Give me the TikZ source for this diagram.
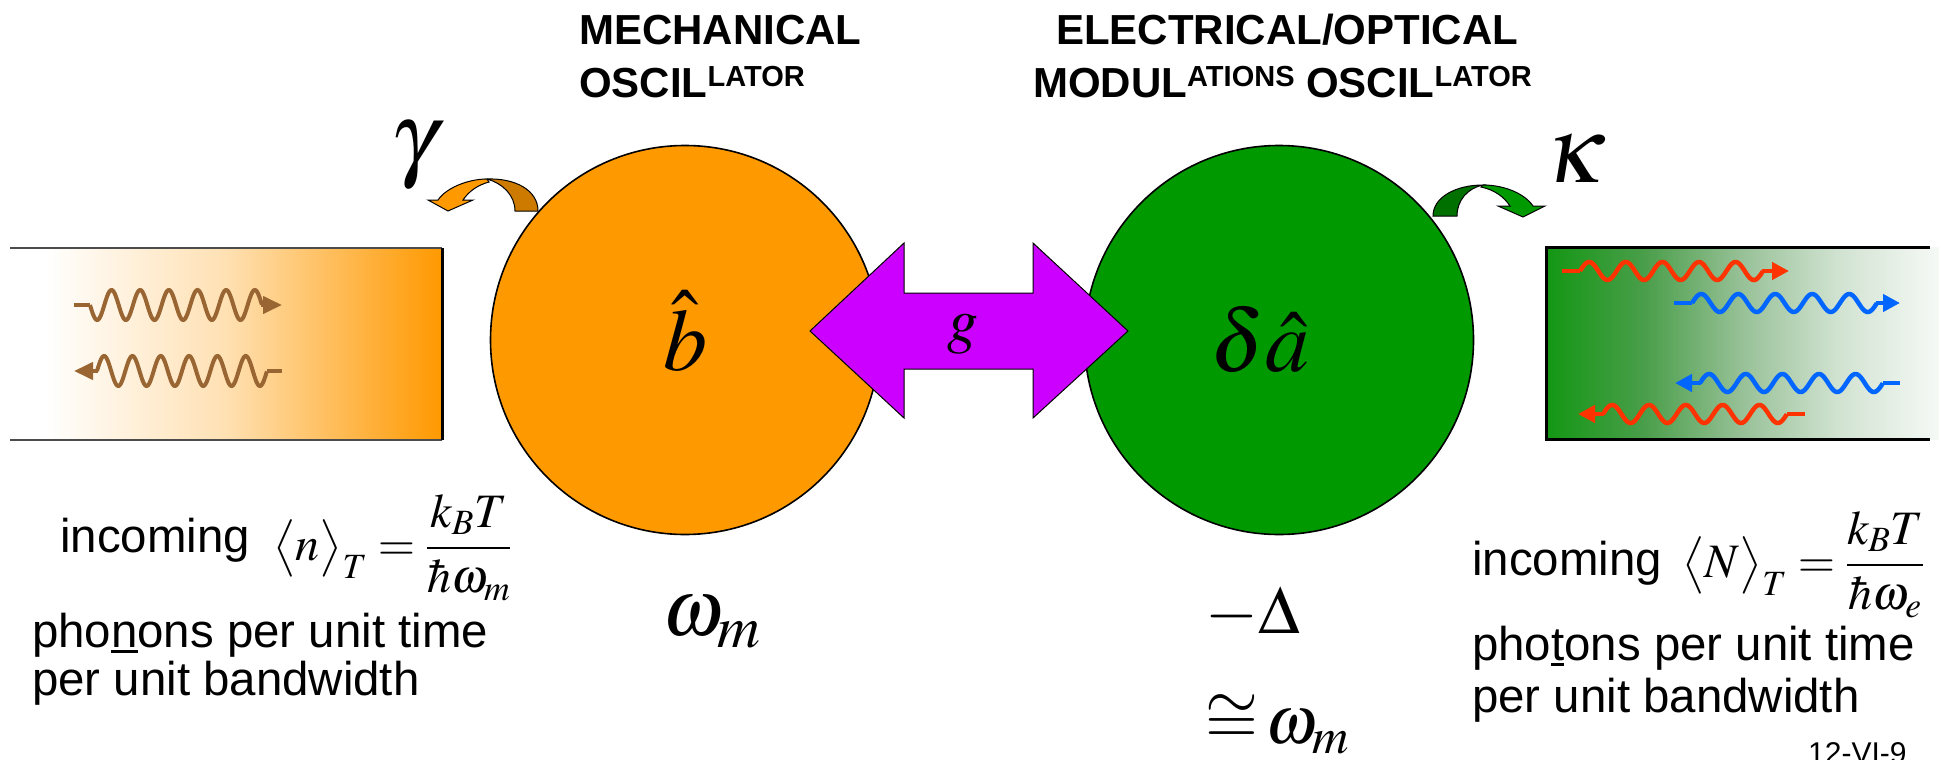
\documentclass[tikz,border=0pt]{standalone}
\usepackage{amsmath}
\usepackage{mathptmx}
\usepackage{bm}
\usepackage[no-math]{fontspec}
\newfontfamily\arial{Liberation Sans}
\usetikzlibrary{arrows.meta}
\definecolor{morange}{HTML}{FF9900}
\definecolor{dorange}{HTML}{CC7A00}
\definecolor{mgreen}{HTML}{009900}
\definecolor{dgreen}{HTML}{007000}
\definecolor{magentaP}{HTML}{CC00FF}
\definecolor{wbrown}{HTML}{996633}
\definecolor{wred}{HTML}{FF3300}
\definecolor{wblue}{HTML}{0066FF}
\definecolor{gA}{HTML}{139713}
\definecolor{gB}{HTML}{4A9E4A}
\definecolor{gC}{HTML}{98C198}
\definecolor{gD}{HTML}{D2E3D2}
\definecolor{gE}{HTML}{F6F9F6}
\pgfdeclarehorizontalshading{orangebar}{100bp}{color(0bp)=(white); color(29bp)=(white); color(50bp)=(morange!30); color(62.5bp)=(morange!65); color(75bp)=(morange); color(100bp)=(morange)}
\pgfdeclarehorizontalshading{greenbar}{100bp}{color(0bp)=(gA); color(25bp)=(gA); color(37.5bp)=(gB); color(50bp)=(gC); color(62.5bp)=(gD); color(75bp)=(gE); color(100bp)=(gE)}
\newcommand\ulchar[1]{\setbox0\hbox{#1}\rlap{\rule[-6pt]{\wd0}{3pt}}\box0}
\newcommand\supx[1]{\raisebox{10pt}{\fontsize{29}{30}\selectfont #1}}
\tikzset{
  txt/.style={inner sep=0pt, anchor=base west, font=\arial\fontsize{47.4}{56}\selectfont},
  ttl/.style={inner sep=0pt, anchor=base west, font=\arial\bfseries\fontsize{42}{48}\selectfont},
  frm/.style={inner sep=0pt, anchor=base west, font=\fontsize{48}{56}\selectfont},
  bigm/.style={inner sep=0pt, anchor=base, font=\fontsize{88}{100}\selectfont},
  gr/.style={inner sep=0pt, anchor=base west, font=\fontsize{95}{110}\selectfont},
  lbl/.style={inner sep=0pt, anchor=base west, font=\fontsize{#1}{#1}\selectfont},
  wavL/.style={line width=4pt},
  wavR/.style={line width=4.5pt},
  headL/.style={-{Triangle[length=19pt 0,width=17pt 0]}},
  headR/.style={-{Triangle[length=17pt 0,width=17pt 0]}},
  shapeln/.style={draw=black, line width=1pt},
  osc/.style={circle, draw=black, line width=1.6pt, inner sep=0pt, minimum size=389pt}
}
\begin{document}
\begin{tikzpicture}[x=1pt,y=-1pt]
\useasboundingbox (0,0) rectangle (1939,760);
\fill[white] (0,0) rectangle (1939,760);

% baths
\shade[shading=orangebar] (10,248) rectangle (442,440);
\draw[line width=2.5pt, black!70] (10,248) -- (442,248);
\draw[line width=2.5pt, black!70] (10,440) -- (442,440);
\draw[line width=3pt] (442,248) -- (442,440);
\shade[shading=greenbar] (1546,247) rectangle (1939,439);
\draw[line width=3pt] (1930,247) -- (1546,247) -- (1546,439) -- (1930,439);

% phonon waves
\draw[wbrown, wavL] (74,305) -- (90,305);
\draw[wbrown, wavL] plot[domain=0:1, samples=220] ({90+172*\x},{305+15*sin(6*360*\x)});
\draw[wbrown, wavL, headL] (261,305) -- (282,305);
\draw[wbrown, wavL, headL] (98,371) -- (74,371);
\draw[wbrown, wavL] plot[domain=0:1, samples=220] ({97+170*\x},{371-15*sin(6*360*\x)});
\draw[wbrown, wavL] (267,371) -- (282,371);

% photon waves
\draw[wred, wavR] (1562,271) -- (1580,271);
\draw[wred, wavR] plot[domain=0:1, samples=200] ({1580+183*\x},{271-9*sin(5*360*\x)});
\draw[wred, wavR, headR] (1762,271) -- (1789,271);
\draw[wblue, wavR] (1674,303) -- (1692,303);
\draw[wblue, wavR] plot[domain=0:1, samples=200] ({1692+185*\x},{303-9*sin(5*360*\x)});
\draw[wblue, wavR, headR] (1876,303) -- (1900,303);
\draw[wblue, wavR, headR] (1701,383) -- (1675,383);
\draw[wblue, wavR] plot[domain=0:1, samples=200] ({1700+183*\x},{383-9*sin(5*360*\x)});
\draw[wblue, wavR] (1883,383) -- (1900,383);
\draw[wred, wavR, headR] (1604,414) -- (1578,414);
\draw[wred, wavR] plot[domain=0:1, samples=200] ({1603+184*\x},{414-9*sin(5*360*\x)});
\draw[wred, wavR] (1787,414) -- (1805,414);

% oscillators
\node[osc, fill=morange] (mech) at (685,340) {};
\node[osc, fill=mgreen] (elec) at (1279,340) {};

% coupling double arrow
\filldraw[fill=magentaP, shapeln] (810,331) -- (904,243) -- (904,293) -- (1033,293) -- (1033,243) -- (1128,331) -- (1033,418) -- (1033,369) -- (904,369) -- (904,418) -- cycle;
\node[inner sep=0pt, anchor=base, font=\fontsize{62}{70}\selectfont] (g) at (963,341) {$g$};

% damping arrows
\filldraw[fill=dorange, shapeln] (538,211) .. controls (538,190) and (515,178) .. (487,179) .. controls (502,183) and (515,195) .. (515,211) -- cycle;
\filldraw[fill=morange, shapeln] (487,179) .. controls (468,179) and (446,188) .. (438,200) -- (428,200) -- (448,211) -- (473,200) -- (463,200) .. controls (469,191) and (478,185) .. (489,182) -- cycle;
\filldraw[fill=dgreen, shapeln] (1433,216) .. controls (1433,197) and (1456,185) .. (1483,185) .. controls (1468,188) and (1457,200) .. (1457,216) -- cycle;
\filldraw[fill=mgreen, shapeln] (1483,185) .. controls (1505,185) and (1525,194) .. (1533,206) -- (1545,206) -- (1523,217) -- (1498,206) -- (1510,206) .. controls (1504,197) and (1495,190) .. (1481,187) -- cycle;
\node[gr] (gamma) at (390,168) {$\gamma$};
\node[gr] (kappa) at (1545,182) {$\kappa$};

% operators
\node[bigm] (bop) at (685,370) {$\hat{b}$};
\node[bigm] (aop) at (1260,371) {$\delta\hat{a}$};

% titles
\node[ttl] (t1) at (579,45) {MECHANICAL};
\node[ttl] (t2) at (579,97) {OSCIL\supx{LATOR}};
\node[ttl] (t3) at (1056,45) {ELECTRICAL/OPTICAL};
\node[ttl] (t4) at (1033,97) {MODUL\supx{ATIONS} OSCIL\supx{LATOR}};

% frequencies
\node[lbl=80] (wm) at (662,635) {$\omega_{m}$};
\node[lbl=68] (delta) at (1205,633) {$-\Delta$};
\node[lbl=68] (cong) at (1205,743) {$\cong\!\omega_{m}$};

% bath texts
\node[txt] (inL) at (60,552) {incoming};
\node[frm] (fL) at (273,560) {$\displaystyle\bigl\langle n\bigr\rangle_{T}=\frac{k_{B}T}{\bm{\hbar}\omega_{m}}$};
\node[txt] (pL1) at (32,647) {pho\ulchar{n}ons per unit time};
\node[txt] (pL2) at (32,695) {per unit bandwidth};
\node[txt] (inR) at (1472,575) {incoming};
\node[frm] (fR) at (1682,577) {$\displaystyle\bigl\langle N\bigr\rangle_{T}=\frac{k_{B}T}{\bm{\hbar}\omega_{e}}$};
\node[txt] (pR1) at (1472,660) {pho\ulchar{t}ons per unit time};
\node[txt] (pR2) at (1472,712) {per unit bandwidth};
\node[inner sep=0pt, anchor=base west, font=\arial\fontsize{30}{32}\selectfont] (id) at (1808,763) {12-VI-9};
\end{tikzpicture}
\end{document}
